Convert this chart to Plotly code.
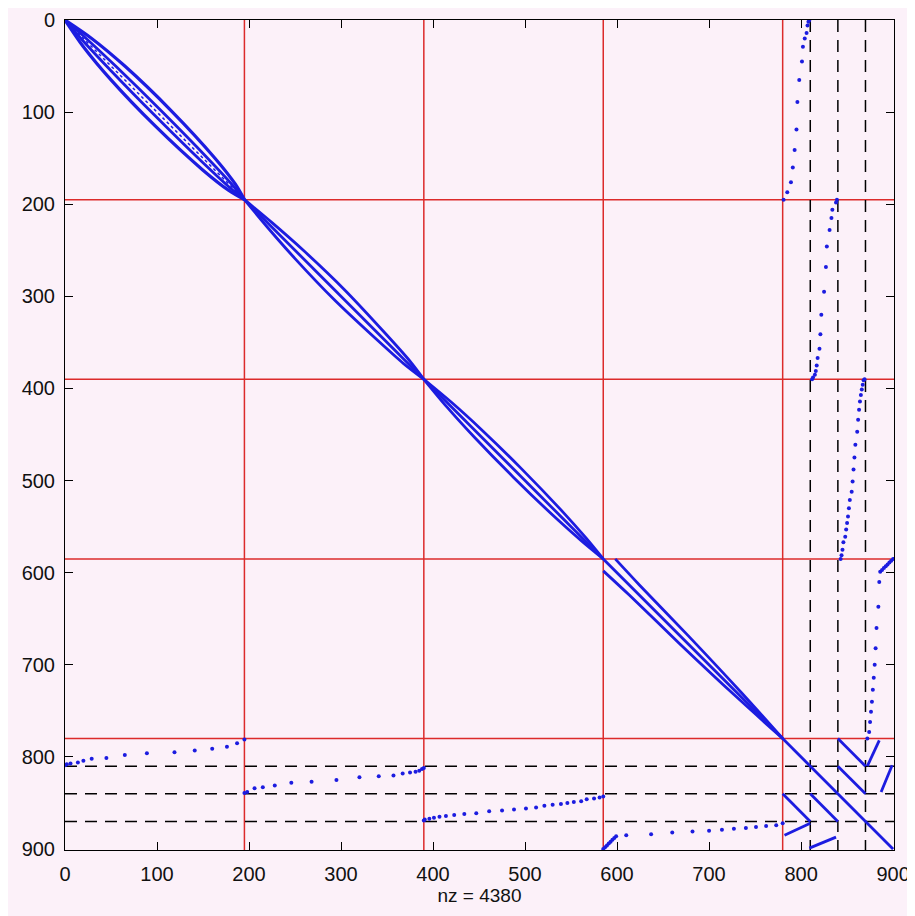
import plotly.graph_objects as go

# ---------------- data (sparsity pattern) ----------------
N = 900
block_edges = [195, 390, 585, 780]          # red solid separators (subdomains)
iface_edges = [810, 840, 870]               # black dashed separators (interface blocks)
tick_vals = [0, 100, 200, 300, 400, 500, 600, 700, 800, 900]
nz_label = "nz = 4380"

# diagonal blocks: control rows and half-width of off-diagonal bands
blk1_rows = [0, 20, 50, 98, 150, 178, 195]
blk1_outer = [0, 9, 15, 17, 13, 7, 0]
blk1_inner = [0, 3, 5, 6, 5, 3, 0]
blk2_rows = [195, 220, 250, 293, 340, 368, 390]
blk2_off = [0, 5, 9, 11, 8, 5, 0]
blk3_rows = [390, 415, 445, 487, 535, 562, 585]
blk3_off = [0, 5, 8, 9, 7, 4, 0]
blk4_rows = [585, 613, 668, 730, 780]
blk4_off = [13, 11, 9, 5, 0]

# interface coupling entries (lower-left part; upper-right is the transpose)
A_cols = [0, 2, 6, 14, 20, 29, 45, 65, 89, 119, 141, 160, 176, 187, 195]
A_rows = [809, 808, 807, 806, 804, 802, 801, 798, 796, 795, 793, 791, 789, 785, 781]
B_cols = [195, 198, 206, 215, 228, 246, 268, 295, 320, 341, 357, 367, 375, 381, 385, 388, 390]
B_rows = [839, 838, 834, 833, 831, 828, 827, 825, 822, 821, 820, 818, 817, 816, 815, 813, 812]
C_cols = [390, 391, 396, 401, 407, 414, 423, 434, 447, 461, 475, 488, 501, 512, 521, 530,
          539, 546, 553, 561, 567, 575, 581, 585]
C_rows = [869, 868, 867, 866, 865, 864, 863, 862, 861, 859, 858, 857, 856, 855, 853, 852,
          851, 850, 849, 848, 846, 845, 844, 843]
D_cols = [585, 587, 589, 591, 593, 595, 597, 599, 610, 637, 660, 682, 700, 714, 727, 740,
          751, 762, 773, 780]
D_rows = [900, 898, 896, 894, 892, 890, 888, 886, 885, 884, 882, 881, 880, 879, 878, 877,
          876, 875, 874, 872]

# interface-interface block (lower triangle segments: col0,row0,col1,row1)
corner_c0 = [780, 782, 810, 809]
corner_r0 = [840, 885, 840, 899]
corner_c1 = [810, 810, 840, 838]
corner_r1 = [870, 872, 870, 887]
corner_diag = [780, 900]

BLUE = "#1c1ce0"
RED = "#dc2b2b"
BG = "#fcf1f9"
FONT = "Liberation Sans, Arial, sans-serif"

fig = go.Figure()


def add_line(xs, ys, width=2.8, dash="solid", shape="spline"):
    fig.add_trace(go.Scatter(x=xs, y=ys, mode="lines",
                             line=dict(color=BLUE, width=width, dash=dash, shape=shape,
                                       smoothing=0.8),
                             hoverinfo="skip", showlegend=False))


def add_band(rows, offs, width=2.8):
    add_line([r + o for r, o in zip(rows, offs)], rows, width=width)
    add_line(rows, [r + o for r, o in zip(rows, offs)], width=width)


# block 1
add_band(blk1_rows, blk1_outer, width=3.2)
add_band(blk1_rows, blk1_inner)
add_line([blk1_rows[0], blk1_rows[-1]], [blk1_rows[0], blk1_rows[-1]], width=1.5, dash="dot",
         shape="linear")
# blocks 2-4
for rows, offs in [(blk2_rows, blk2_off), (blk3_rows, blk3_off), (blk4_rows, blk4_off)]:
    add_band(rows, offs)
    add_line([rows[0], rows[-1]], [rows[0], rows[-1]], shape="linear")

# interface-interface corner block
add_line(corner_diag, corner_diag, shape="linear")
cx, cy = [], []
for c0, r0, c1, r1 in zip(corner_c0, corner_r0, corner_c1, corner_r1):
    cx += [c0, c1, None, r0, r1, None]
    cy += [r0, r1, None, c0, c1, None]
add_line(cx, cy, shape="linear")

# interface coupling dots (and their transpose)
dx, dy = [], []
for cols, rows in [(A_cols, A_rows), (B_cols, B_rows), (C_cols, C_rows), (D_cols, D_rows)]:
    dx += cols + rows
    dy += rows + cols
fig.add_trace(go.Scatter(x=dx, y=dy, mode="markers",
                         marker=dict(color=BLUE, size=4, line=dict(width=0)),
                         hoverinfo="skip", showlegend=False))

# separators
shapes = []
for e in block_edges:
    shapes.append(dict(type="line", xref="x", yref="y", x0=e, x1=e, y0=0, y1=N + 1,
                       line=dict(color=RED, width=1.5), layer="below"))
    shapes.append(dict(type="line", xref="x", yref="y", x0=0, x1=N + 1, y0=e, y1=e,
                       line=dict(color=RED, width=1.5), layer="below"))
for e in iface_edges:
    shapes.append(dict(type="line", xref="x", yref="y", x0=e, x1=e, y0=0, y1=N + 1,
                       line=dict(color="black", width=1.5, dash="12px,8px"), layer="below"))
    shapes.append(dict(type="line", xref="x", yref="y", x0=0, x1=N + 1, y0=e, y1=e,
                       line=dict(color="black", width=1.5, dash="12px,8px"), layer="below"))

axis_common = dict(showgrid=False, zeroline=False, showline=True, linecolor="black",
                   linewidth=1, mirror="ticks", ticks="inside", ticklen=8, tickwidth=1,
                   tickcolor="black", tickvals=tick_vals, automargin=False,
                   ticktext=[str(v) for v in tick_vals],
                   tickfont=dict(family=FONT, size=20, color="#111111"))

# the page body adds an 8px offset, so the figure is sized/placed to compensate
fig.update_layout(
    width=907, height=908,
    margin=dict(l=57, r=21, t=12, b=66),
    paper_bgcolor=BG, plot_bgcolor=BG,
    shapes=shapes,
    xaxis=dict(range=[0, N + 1], ticklabelstandoff=6,
               title=dict(text=nz_label, standoff=2,
                          font=dict(family=FONT, size=19, color="#111111")),
               **axis_common),
    yaxis=dict(range=[N + 1, 0], ticklabelstandoff=5, **axis_common),
)

fig.write_html("out.html")
